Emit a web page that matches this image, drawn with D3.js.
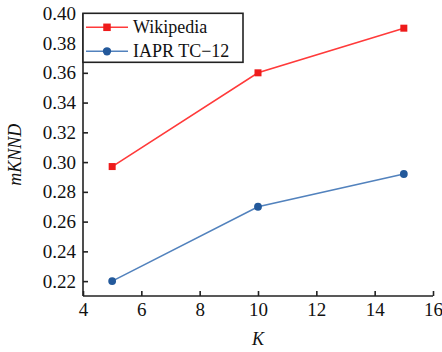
<!DOCTYPE html>
<html>
<head>
<meta charset="utf-8">
<script src="https://cdn.jsdelivr.net/npm/d3@7/dist/d3.min.js"></script>
<style>
  html, body { margin: 0; padding: 0; background: #fff; }
</style>
</head>
<body>
<svg id="chart" width="442" height="352"></svg>
<script>
// K values and mKNND scores for each dataset
const kValues = [5, 10, 15];
const wikipedia = [0.297, 0.360, 0.390];
const iapr = [0.220, 0.270, 0.292];
const xTicks = [4, 6, 8, 10, 12, 14, 16];
const yTicks = [0.22, 0.24, 0.26, 0.28, 0.30, 0.32, 0.34, 0.36, 0.38, 0.40];
const seriesNames = ["Wikipedia", "IAPR TC\u221212"];

const svg = d3.select("#chart");
const margin = { left: 83, right: 9, top: 13.3, bottom: 56 };
const W = 442, H = 352;
const serif = "Liberation Serif, Times New Roman, serif";

const x = d3.scaleLinear().domain([4, 16]).range([margin.left, W - margin.right]);
const y = d3.scaleLinear().domain([0.21, 0.40]).range([H - margin.bottom, margin.top]);

const series = [
  { name: seriesNames[0], values: wikipedia, line: "#ff3a3a", mark: "#ee1b1b", shape: "square" },
  { name: seriesNames[1], values: iapr, line: "#5282bd", mark: "#23599b", shape: "circle" }
];

// axes with inward ticks
const xAxis = svg.append("g")
  .attr("transform", `translate(0,${y.range()[0]})`)
  .call(d3.axisBottom(x).tickValues(xTicks).tickFormat(d3.format("d")).tickSizeInner(-5).tickSizeOuter(0).tickPadding(7));
const yAxis = svg.append("g")
  .attr("transform", `translate(${x.range()[0]},0)`)
  .call(d3.axisLeft(y).tickValues(yTicks).tickFormat(d3.format(".2f")).tickSizeInner(-5).tickSizeOuter(0).tickPadding(7));

[xAxis, yAxis].forEach(g => {
  g.attr("font-family", serif).attr("font-size", 19);
  g.select(".domain").attr("stroke", "#222").attr("stroke-width", 1.6);
  g.selectAll(".tick line").attr("stroke", "#222").attr("stroke-width", 1.6);
  g.selectAll(".tick text").attr("fill", "#111");
});
xAxis.select(".domain").attr("d", `M${x.range()[0]},0H${x.range()[1]}`);
yAxis.select(".domain").attr("d", `M0,${y.range()[0]}V${y.range()[1]}`);

// axis titles
svg.append("text")
  .attr("x", x(10)).attr("y", 345)
  .attr("text-anchor", "middle")
  .attr("font-family", serif).attr("font-size", 18).attr("font-style", "italic")
  .attr("fill", "#111")
  .text("K");
svg.append("text")
  .attr("transform", `translate(21,${(y.range()[0] + y.range()[1]) / 2}) rotate(-90)`)
  .attr("text-anchor", "middle")
  .attr("font-family", serif).attr("font-size", 18).attr("font-style", "italic")
  .attr("fill", "#111")
  .text("mKNND");

const line = d3.line().x((d, i) => x(kValues[i])).y(d => y(d));

function drawMarker(g, cx, cy, s, size) {
  if (s.shape === "square") {
    g.append("rect").attr("x", cx - size / 2).attr("y", cy - size / 2)
      .attr("width", size).attr("height", size).attr("fill", s.mark);
  } else {
    g.append("circle").attr("cx", cx).attr("cy", cy).attr("r", size / 2 + 0.4).attr("fill", s.mark);
  }
}

series.forEach(s => {
  const g = svg.append("g");
  g.append("path").datum(s.values).attr("d", line)
    .attr("fill", "none").attr("stroke", s.line).attr("stroke-width", 1.6);
  s.values.forEach((v, i) => drawMarker(g, x(kValues[i]), y(v), s, 7));
});

// legend
const lg = svg.append("g");
const lx = x.range()[0], ly = margin.top;
lg.append("rect").attr("x", lx).attr("y", ly).attr("width", 160).attr("height", 49)
  .attr("fill", "#fff").attr("stroke", "#222").attr("stroke-width", 1.6);
series.forEach((s, i) => {
  const yy = ly + 14 + i * 24;
  lg.append("line").attr("x1", lx + 3).attr("x2", lx + 45).attr("y1", yy).attr("y2", yy)
    .attr("stroke", s.line).attr("stroke-width", 1.6);
  drawMarker(lg, lx + 24, yy, s, 7.5);
  lg.append("text").attr("x", lx + 50).attr("y", yy + 6)
    .attr("font-family", serif).attr("font-size", 18).attr("fill", "#111").text(s.name);
});
</script>
</body>
</html>
